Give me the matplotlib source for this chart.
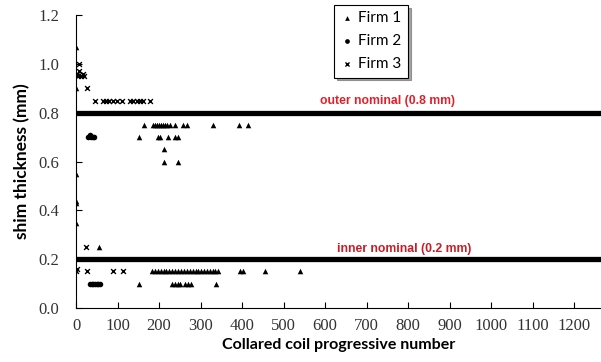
import matplotlib
matplotlib.use("Agg")
from matplotlib import pyplot as plt

# Firm 1 (triangles)
firm1_x = [0, 0, 0, 0, 0, 0, 56,
           164, 185, 190, 195, 200, 205, 210, 215, 220, 227, 239, 258, 267, 330, 393, 415,
           152, 198, 202, 222, 239, 246,
           212, 212, 246,
           183, 190, 197, 204, 211, 218, 225, 232, 239, 246, 253, 260, 267, 274, 281,
           288, 295, 302, 309, 316, 323, 330, 336, 342, 395, 403, 455, 540,
           152, 231, 238, 245, 250, 262, 270, 278, 337]
firm1_y = [1.07, 0.90, 0.55, 0.44, 0.43, 0.35, 0.25,
           0.75, 0.75, 0.75, 0.75, 0.75, 0.75, 0.75, 0.75, 0.75, 0.75, 0.75, 0.75, 0.75, 0.75, 0.75, 0.75,
           0.70, 0.70, 0.70, 0.70, 0.70, 0.70,
           0.65, 0.60, 0.60,
           0.15, 0.15, 0.15, 0.15, 0.15, 0.15, 0.15, 0.15, 0.15, 0.15, 0.15, 0.15, 0.15, 0.15, 0.15,
           0.15, 0.15, 0.15, 0.15, 0.15, 0.15, 0.15, 0.15, 0.15, 0.15, 0.15, 0.15, 0.15,
           0.10, 0.10, 0.10, 0.10, 0.10, 0.10, 0.10, 0.10, 0.10]

# Firm 2 (circles)
firm2_x = [30, 33, 36, 40, 44, 34, 38, 42, 46, 50, 54, 58]
firm2_y = [0.70, 0.71, 0.70, 0.70, 0.70, 0.10, 0.10, 0.10, 0.10, 0.10, 0.10, 0.10]

# Firm 3 (crosses)
firm3_x = [2, 5, 8, 12, 16, 20, 7, 27, 46, 65, 72, 80, 88, 99, 110, 130, 138, 146, 154, 162, 178,
           24, 0, 3, 27, 90, 112]
firm3_y = [0.96, 0.95, 0.97, 0.95, 0.96, 0.95, 1.00, 0.90, 0.85, 0.85, 0.85, 0.85, 0.85, 0.85, 0.85,
           0.85, 0.85, 0.85, 0.85, 0.85, 0.85,
           0.25, 0.15, 0.16, 0.15, 0.15, 0.15]

outer_nominal = 0.8
inner_nominal = 0.2

fig = plt.figure(figsize=(6.01, 3.62), dpi=100)
ax = fig.add_axes([0.1265, 0.149, 0.8735, 0.8094])

ax.axhline(outer_nominal, color='black', lw=3.8, zorder=1)
ax.axhline(inner_nominal, color='black', lw=3.8, zorder=1)

ax.scatter(firm1_x, firm1_y, marker='^', s=16, c='black', linewidths=0, label='Firm 1', zorder=3)
ax.scatter(firm2_x, firm2_y, marker='o', s=16, c='black', linewidths=0, label='Firm 2', zorder=3)
ax.scatter(firm3_x, firm3_y, marker='x', s=12, c='black', linewidths=1.0, label='Firm 3', zorder=3)

ax.text(588, 0.847, 'outer nominal (0.8 mm)', color='#e0202a', fontsize=8.8,
        family='Liberation Sans', fontweight='bold', va='center', ha='left')
ax.text(629, 0.243, 'inner nominal (0.2 mm)', color='#c81c26', fontsize=8.8,
        family='Liberation Sans', fontweight='bold', va='center', ha='left')

ax.set_xlim(0, 1265)
ax.set_ylim(0, 1.2)
ax.set_xticks(range(0, 1201, 100))
ax.set_yticks([0.0, 0.2, 0.4, 0.6, 0.8, 1.0, 1.2])
ax.set_yticklabels(['0.0', '0.2', '0.4', '0.6', '0.8', '1.0', '1.2'])
ax.tick_params(direction='in', length=4, width=0.8, labelsize=12)
ax.tick_params(axis='x', pad=7)
ax.tick_params(axis='y', pad=12)
for lab in ax.get_xticklabels() + ax.get_yticklabels():
    lab.set_family('Liberation Serif')
    lab.set_color('#333333')

ax.spines['top'].set_visible(False)
ax.spines['right'].set_visible(False)

ax.set_xlabel('Collared coil progressive number', family='Lato', fontweight='bold',
              fontsize=11.5, labelpad=3)
ax.set_ylabel('shim thickness (mm)', family='Lato', fontweight='bold', fontsize=12.5, labelpad=6)

leg = ax.legend(loc='upper left', bbox_to_anchor=(334 / 601, 1 - 5 / 362),
                bbox_transform=fig.transFigure, fancybox=False, shadow=True,
                edgecolor='black', prop={'family': 'Lato', 'size': 11},
                markerscale=0.85, handletextpad=0.3, borderpad=0.4, labelspacing=0.6,
                handlelength=0.9, borderaxespad=0)
leg.get_frame().set_linewidth(0.8)

fig.savefig('out.png', dpi=100)
